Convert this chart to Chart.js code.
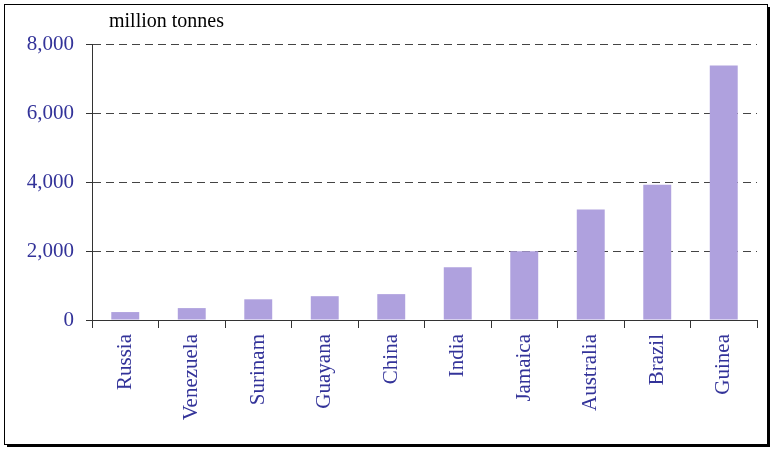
<!DOCTYPE html>
<html>
<head>
<meta charset="utf-8">
<script src="https://cdn.jsdelivr.net/npm/chart.js@4/dist/chart.umd.min.js"></script>
<style>
  html, body { margin: 0; padding: 0; background: #fff; }
  #wrap { width: 771px; height: 450px; position: relative; }
</style>
</head>
<body>
<div id="wrap"><canvas id="bauxiteChart" width="771" height="450"></canvas></div>
<script>
// Bauxite reserves by country, million tonnes
const countries = ['Russia', 'Venezuela', 'Surinam', 'Guayana', 'China', 'India', 'Jamaica', 'Australia', 'Brazil', 'Guinea'];
const reserves = [230, 345, 600, 690, 750, 1530, 1990, 3200, 3920, 7380];
const yTicks = [0, 2000, 4000, 6000, 8000];

const serif = "'Liberation Serif', 'DejaVu Serif', serif";
const labelBlue = '#333399';

// outer frame with shadow at bottom/right
const framePlugin = {
    id: 'frame',
    beforeDraw(chart) {
        const ctx = chart.ctx;
        ctx.save();
        ctx.fillStyle = '#000';
        ctx.fillRect(7, 444, 763, 3);
        ctx.fillRect(767, 7, 3, 440);
        ctx.strokeStyle = '#000';
        ctx.lineWidth = 1;
        ctx.strokeRect(4.5, 4.5, 763, 440);
        ctx.restore();
    }
};

// unit label above the value axis
const unitPlugin = {
    id: 'unitLabel',
    afterDraw(chart) {
        const ctx = chart.ctx;
        const area = chart.chartArea;
        ctx.save();
        ctx.font = '20px ' + serif;
        ctx.fillStyle = '#000';
        ctx.textBaseline = 'alphabetic';
        ctx.fillText('million tonnes', area.left + 17, area.top - 17);
        ctx.restore();
    }
};

new Chart(document.getElementById('bauxiteChart').getContext('2d'), {
    type: 'bar',
    data: {
        labels: countries,
        datasets: [{
            label: 'Reserves',
            data: reserves,
            backgroundColor: '#afa1de',
            borderWidth: 0,
            barPercentage: 0.42,
            categoryPercentage: 1
        }]
    },
    options: {
        responsive: false,
        animation: false,
        layout: {
            padding: { top: 44, right: 14, bottom: 0, left: 0 }
        },
        plugins: {
            legend: { display: false },
            tooltip: { enabled: false }
        },
        scales: {
            x: {
                offset: true,
                grid: {
                    offset: true,
                    drawOnChartArea: false,
                    tickLength: 8,
                    tickColor: '#333',
                    tickWidth: 1
                },
                border: { color: '#333', width: 1 },
                ticks: {
                    color: labelBlue,
                    font: { family: serif, size: 21 },
                    minRotation: 90,
                    maxRotation: 90,
                    padding: 6,
                    autoSkip: false
                },
                afterFit(scale) { scale.height = 130; }
            },
            y: {
                min: 0,
                max: 8000,
                afterBuildTicks(scale) {
                    scale.ticks = yTicks.map(v => ({ value: v }));
                },
                grid: {
                    color: ctx => ctx.tick && ctx.tick.value === 0 ? 'rgba(0,0,0,0)' : '#444',
                    tickBorderDash: [],
                    tickLength: 6,
                    tickColor: '#333',
                    lineWidth: 1
                },
                border: { color: '#333', width: 1, dash: [8, 5] },
                ticks: {
                    color: labelBlue,
                    font: { family: serif, size: 21 },
                    padding: 12,
                    callback: v => v.toLocaleString('en-US')
                },
                afterFit(scale) { scale.width = 92; }
            }
        }
    },
    plugins: [framePlugin, unitPlugin]
});
</script>
</body>
</html>
